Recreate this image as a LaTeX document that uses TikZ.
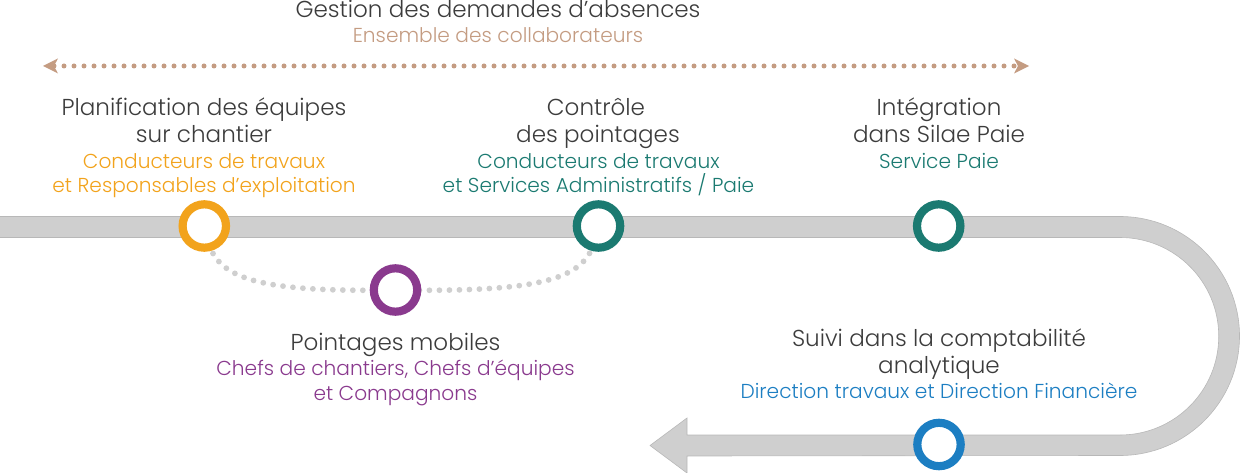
\documentclass[tikz,border=0pt]{standalone}
\usepackage{fontspec}
\setmainfont{Poppins Light}
\usetikzlibrary{arrows.meta,backgrounds}
\definecolor{inkc}{HTML}{3C3C3C}
\definecolor{tanc}{HTML}{C49C82}
\definecolor{orangec}{HTML}{F2A31C}
\definecolor{tealc}{HTML}{1B7A71}
\definecolor{purplec}{HTML}{8A3A8E}
\definecolor{bluec}{HTML}{1C7EC2}
\definecolor{bandc}{HTML}{CFCFCF}
\definecolor{banded}{HTML}{B8B8B8}
\definecolor{dotc}{HTML}{CFCFCF}
\tikzset{
  x=1pt,y=-1pt,
  ring/.style={circle,draw=#1,line width=8.2pt,fill=white,minimum size=43.4pt,inner sep=0pt},
  block/.style={anchor=base,align=center,inner sep=0pt,text=inkc,font=\fontsize{23.05}{27}\selectfont},
  role/.style={anchor=base,align=center,inner sep=0pt,text=#1,font=\fontsize{20.17}{24.3}\selectfont},
  band/.style={fill=bandc,draw=banded,line width=0.6pt},
  graydots/.style={draw=dotc,line width=5.8pt,line cap=round,dash pattern=on 0pt off 10pt},
  tandots/.style={draw=tanc,line width=5pt,line cap=round,dash pattern=on 0pt off 10pt,
    {Stealth[length=15pt,width=15pt,inset=4pt,line width=0pt]}-{Stealth[length=15pt,width=15pt,inset=4pt,line width=0pt]}},
}
\begin{document}
\begin{tikzpicture}
\useasboundingbox (0,0) rectangle (1240,473);
% rings
\node[ring=orangec] (plan) at (204.3,226) {};
\node[ring=tealc] (ctrl) at (598.5,226) {};
\node[ring=tealc] (silae) at (938.7,226) {};
\node[ring=purplec] (mob) at (395.5,290) {};
\node[ring=bluec] (suivi) at (939,444.5) {};
\coordinate (bandstart) at (0,227);
\coordinate (tipl) at (43,66);
\coordinate (tipr) at (1029,66);
% background
\begin{scope}[on background layer]
\path[band] (bandstart) ++(0,-10.5) -- (1120,216.5)
  arc[start angle=-90,end angle=90,radius=119.5]
  -- (687,456) -- (687,473) -- (650,445.5) -- (687,418) -- (687,435)
  -- (1120,435)
  arc[start angle=90,end angle=-90,radius=98.75]
  -- (0,237.5);
\draw[graydots,dash phase=1pt] (plan.center) .. controls (212,272) and (232,293) .. (mob.center);
\draw[graydots,dash phase=1pt] (ctrl.center) .. controls (590.5,272) and (570.5,293) .. (mob.center);
\end{scope}
\draw[tandots] (tipl) -- (tipr);
% texts
\node[block] (t0) at (498,18) {Gestion des demandes d’absences};
\node[role=tanc] (r0) at (498,43) {Ensemble des collaborateurs};
\node[block,anchor=north] (t1) at (204,97.5) {Planification des équipes\\sur chantier};
\node[role=orangec,anchor=north] (r1) at (204,153) {Conducteurs de travaux\\et Responsables d’exploitation};
\node[block,anchor=north] (t2) at (598,98.5) {Contrôle\hspace*{4pt}\\des pointages};
\node[role=tealc,anchor=north] (r2) at (598.5,153) {Conducteurs de travaux\\et Services Administratifs / Paie};
\node[block,anchor=north] (t3) at (939,97.5) {Intégration\\dans Silae Paie};
\node[role=tealc,anchor=north] (r3) at (939,153) {Service Paie};
\node[block] (t4) at (395.5,350) {Pointages mobiles};
\node[role=purplec,anchor=north] (r4) at (395.5,360) {Chefs de chantiers, Chefs d’équipes\\et Compagnons};
\node[block,anchor=north] (t5) at (939,328.5) {Suivi dans la comptabilité\\analytique};
\node[role=bluec,anchor=north] (r5) at (939,383) {Direction travaux et Direction Financière};
\end{tikzpicture}
\end{document}
